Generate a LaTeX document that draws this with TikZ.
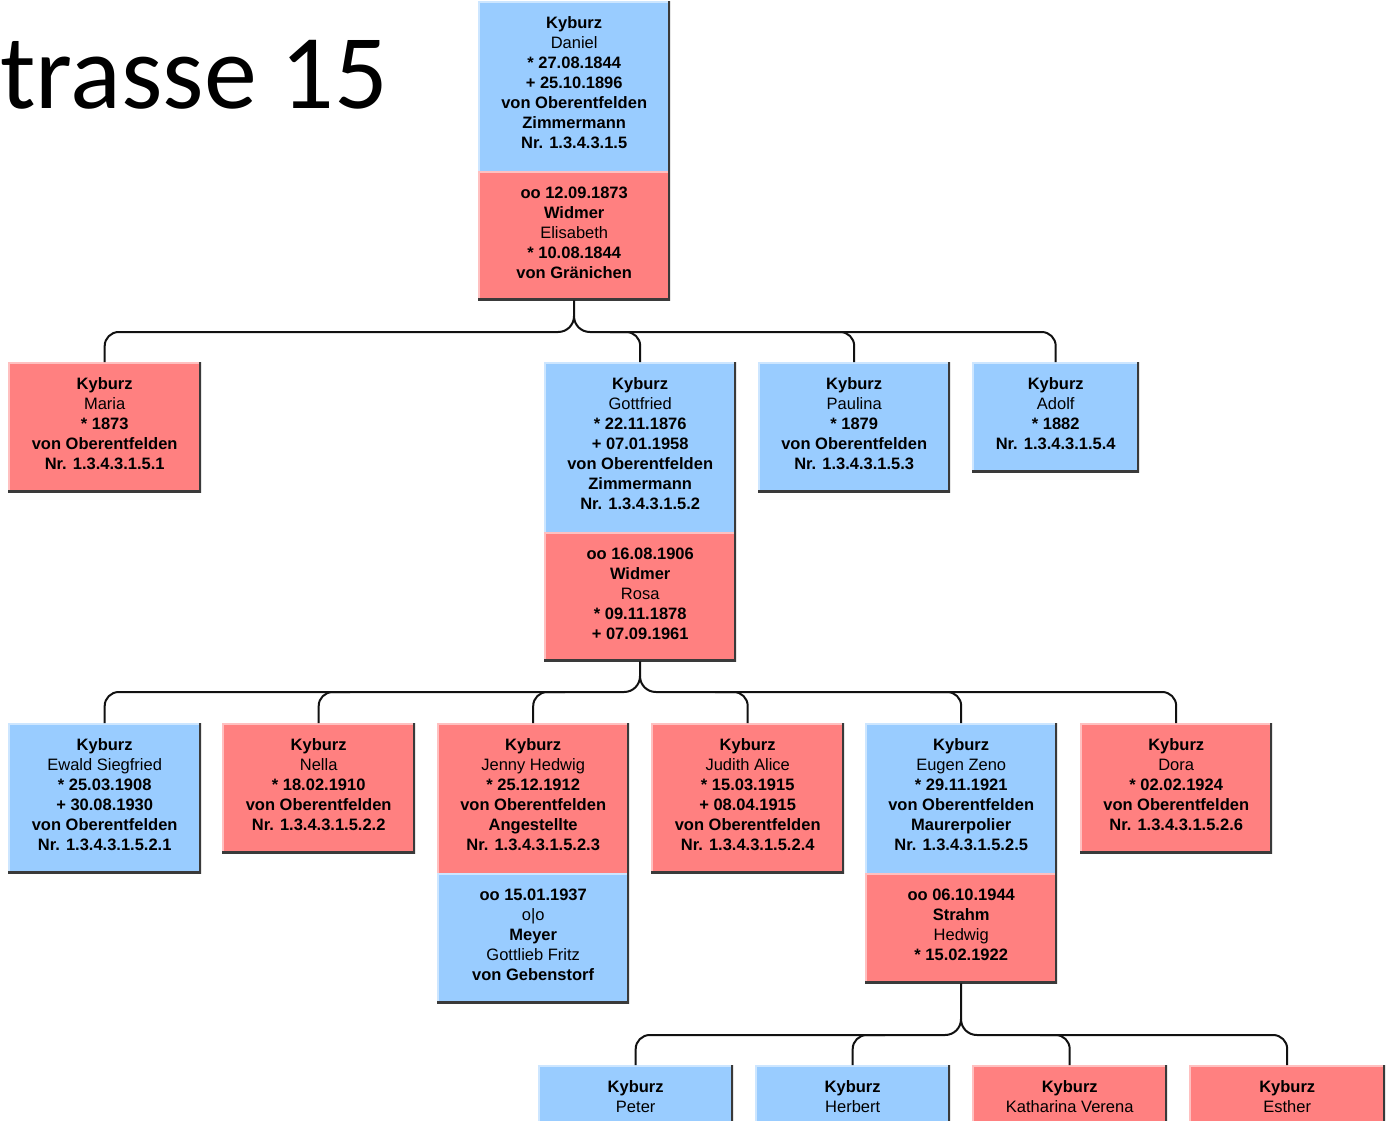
\documentclass[tikz,border=0pt]{standalone}
\usepackage{fontspec}
\setmainfont{Liberation Sans}
\newfontfamily\titlefamily{Carlito}
\definecolor{mblue}{HTML}{99CCFF}
\definecolor{mbluelight}{HTML}{CDE6FF}
\definecolor{fred}{HTML}{FF8080}
\definecolor{fredlight}{HTML}{FFC0C0}
\definecolor{edgedark}{HTML}{3A3A3A}
\definecolor{linkcol}{HTML}{111111}
\newcommand{\cardfont}{\fontsize{16.5}{20}\selectfont}
\tikzset{
  cardbase/.style={rectangle, anchor=north west, inner xsep=0pt, inner ysep=15pt,
    align=center, font=\cardfont, text=black},
  % closed box: light top/left edge, dark right/bottom edge
  card/.style={cardbase, fill=#1, path picture={
      \draw[line width=3pt, #1light] (path picture bounding box.south west) |- (path picture bounding box.north east);
      \draw[line width=4pt, edgedark] (path picture bounding box.north east) |- (path picture bounding box.south west);}},
  % upper half of a couple box: no dark bottom edge
  uppercard/.style={cardbase, fill=#1, path picture={
      \draw[line width=3pt, #1light] (path picture bounding box.south west) |- (path picture bounding box.north east);
      \draw[line width=4pt, edgedark] (path picture bounding box.north east) -- (path picture bounding box.south east);}},
  % box size: width, height of the text block above the last baseline, depth below it
  boxsize/.style n args={3}{minimum width=#1, text height=#2, text depth=#3},
  link/.style={line width=2pt, draw=linkcol, rounded corners=14pt},
  bracelink/.style={line width=2pt, draw=linkcol},
}
\begin{document}
\begin{tikzpicture}[x=1pt, y=-1pt]
\useasboundingbox (0,0) rectangle (1387,1120);
\clip (0,0) rectangle (1387,1120);

\node (title) [anchor=base west, inner sep=0pt, font=\titlefamily\fontsize{106}{110}\selectfont] at (0,108) {trasse 15};

% generation 1
\node (daniel) [uppercard=mblue, boxsize={192pt}{132pt}{8pt}] at (478,1)
  {\textbf{Kyburz}\\Daniel\\\textbf{* 27.08.1844}\\\textbf{+ 25.10.1896}\\\textbf{von Oberentfelden}\\\textbf{Zimmermann}\\\textbf{Nr. 1.3.4.3.1.5}};
\node (danielsp) [card=fred, boxsize={192pt}{92pt}{7pt}] at (478,171)
  {\textbf{oo 12.09.1873}\\\textbf{Widmer}\\Elisabeth\\\textbf{* 10.08.1844}\\\textbf{von Gränichen}};

% generation 2
\node (maria) [card=fred, boxsize={193pt}{92pt}{8pt}] at (8,362)
  {\textbf{Kyburz}\\Maria\\\textbf{* 1873}\\\textbf{von Oberentfelden}\\\textbf{Nr. 1.3.4.3.1.5.1}};
\node (gottfried) [uppercard=mblue, boxsize={192pt}{132pt}{8pt}] at (544,362)
  {\textbf{Kyburz}\\Gottfried\\\textbf{* 22.11.1876}\\\textbf{+ 07.01.1958}\\\textbf{von Oberentfelden}\\\textbf{Zimmermann}\\\textbf{Nr. 1.3.4.3.1.5.2}};
\node (gottfriedsp) [card=fred, boxsize={192pt}{92pt}{7pt}] at (544,532)
  {\textbf{oo 16.08.1906}\\\textbf{Widmer}\\Rosa\\\textbf{* 09.11.1878}\\\textbf{+ 07.09.1961}};
\node (paulina) [card=mblue, boxsize={192pt}{92pt}{8pt}] at (758,362)
  {\textbf{Kyburz}\\Paulina\\\textbf{* 1879}\\\textbf{von Oberentfelden}\\\textbf{Nr. 1.3.4.3.1.5.3}};
\node (adolf) [card=mblue, boxsize={167pt}{72pt}{8pt}] at (972,362)
  {\textbf{Kyburz}\\Adolf\\\textbf{* 1882}\\\textbf{Nr. 1.3.4.3.1.5.4}};

% generation 3
\node (ewald) [card=mblue, boxsize={193pt}{112pt}{8pt}] at (8,723)
  {\textbf{Kyburz}\\Ewald Siegfried\\\textbf{* 25.03.1908}\\\textbf{+ 30.08.1930}\\\textbf{von Oberentfelden}\\\textbf{Nr. 1.3.4.3.1.5.2.1}};
\node (nella) [card=fred, boxsize={193pt}{92pt}{8pt}] at (222,723)
  {\textbf{Kyburz}\\Nella\\\textbf{* 18.02.1910}\\\textbf{von Oberentfelden}\\\textbf{Nr. 1.3.4.3.1.5.2.2}};
\node (jenny) [uppercard=fred, boxsize={192pt}{112pt}{8pt}] at (437,723)
  {\textbf{Kyburz}\\Jenny Hedwig\\\textbf{* 25.12.1912}\\\textbf{von Oberentfelden}\\\textbf{Angestellte}\\\textbf{Nr. 1.3.4.3.1.5.2.3}};
\node (jennysp) [card=mblue, boxsize={192pt}{92pt}{8pt}] at (437,873)
  {\textbf{oo 15.01.1937}\\o|o\\\textbf{Meyer}\\Gottlieb Fritz\\\textbf{von Gebenstorf}};
\node (judith) [card=fred, boxsize={193pt}{112pt}{8pt}] at (651,723)
  {\textbf{Kyburz}\\Judith Alice\\\textbf{* 15.03.1915}\\\textbf{+ 08.04.1915}\\\textbf{von Oberentfelden}\\\textbf{Nr. 1.3.4.3.1.5.2.4}};
\node (eugen) [uppercard=mblue, boxsize={192pt}{112pt}{8pt}] at (865,723)
  {\textbf{Kyburz}\\Eugen Zeno\\\textbf{* 29.11.1921}\\\textbf{von Oberentfelden}\\\textbf{Maurerpolier}\\\textbf{Nr. 1.3.4.3.1.5.2.5}};
\node (eugensp) [card=fred, boxsize={192pt}{72pt}{8pt}] at (865,873)
  {\textbf{oo 06.10.1944}\\\textbf{Strahm}\\Hedwig\\\textbf{* 15.02.1922}};
\node (dora) [card=fred, boxsize={192pt}{92pt}{8pt}] at (1080,723)
  {\textbf{Kyburz}\\Dora\\\textbf{* 02.02.1924}\\\textbf{von Oberentfelden}\\\textbf{Nr. 1.3.4.3.1.5.2.6}};

% generation 4
\node (peter) [card=mblue, boxsize={195pt}{32pt}{18pt}] at (538,1065)
  {\textbf{Kyburz}\\Peter};
\node (herbert) [card=mblue, boxsize={195pt}{32pt}{18pt}] at (755,1065)
  {\textbf{Kyburz}\\Herbert};
\node (katharina) [card=fred, boxsize={195pt}{32pt}{18pt}] at (972,1065)
  {\textbf{Kyburz}\\Katharina Verena};
\node (esther) [card=fred, boxsize={196pt}{32pt}{18pt}] at (1189,1065)
  {\textbf{Kyburz}\\Esther};

% children of Daniel
\draw[bracelink] (danielsp.south) -- (574,316) .. controls (574,325) and (567,332) .. (558,332);
\draw[bracelink] (574,316) .. controls (574,325) and (581,332) .. (590,332);
\draw[link] (558,332) -| (maria.north);
\draw[link] (590,332) -| (adolf.north);
\draw[link] (610,332) -| (gottfried.north);
\draw[link] (820,332) -| (paulina.north);

% children of Gottfried
\draw[bracelink] (gottfriedsp.south) -- (640,676) .. controls (640,685) and (633,692) .. (624,692);
\draw[bracelink] (640,676) .. controls (640,685) and (647,692) .. (656,692);
\draw[link] (624,692) -| (ewald.north);
\draw[link] (350,692) -| (nella.north);
\draw[link] (565,692) -| (jenny.north);
\draw[link] (656,692) -| (dora.north);
\draw[link] (715,692) -| (judith.north);
\draw[link] (930,692) -| (eugen.north);

% children of Eugen
\draw[bracelink] (eugensp.south) -- (961,1019) .. controls (961,1028) and (954,1035) .. (945,1035);
\draw[bracelink] (961,1019) .. controls (961,1028) and (968,1035) .. (977,1035);
\draw[link] (945,1035) -| (peter.north);
\draw[link] (885,1035) -| (herbert.north);
\draw[link] (977,1035) -| (esther.north);
\draw[link] (1040,1035) -| (katharina.north);
\end{tikzpicture}
\end{document}
